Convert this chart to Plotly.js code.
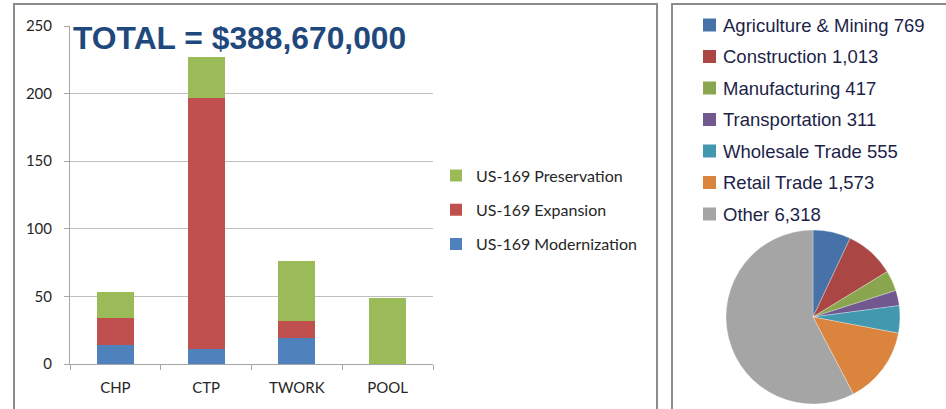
<!DOCTYPE html>
<html>
<head>
<meta charset="utf-8">
<script src="https://cdn.plot.ly/plotly-3.0.1.min.js"></script>
<style>html,body{margin:0;padding:0;background:#fff;}#chart{width:946px;height:409px;}</style>
</head>
<body>
<div id="chart"></div>
<script>
// Bar chart data (millions of dollars)
const programs = ["CHP", "CTP", "TWORK", "POOL"];
const modernization = [14, 11, 19.5, 0];
const expansion = [20, 186, 12, 0];
const preservation = [19, 30, 44.5, 49];
const seriesNames = ["US-169 Modernization", "US-169 Expansion", "US-169 Preservation"];
const yTicks = [0, 50, 100, 150, 200, 250];
const totalLabel = "TOTAL = $388,670,000";

// Pie chart data (employment by sector)
const sectors = ["Agriculture & Mining", "Construction", "Manufacturing", "Transportation", "Wholesale Trade", "Retail Trade", "Other"];
const sectorValues = [769, 1013, 417, 311, 555, 1573, 6318];

const W = 946, H = 409;
const px = v => v / W, py = v => 1 - v / H;

const barColors = ["#4F81BD", "#C0504D", "#9BBB59"];
const pieColors = ["#4672A8", "#AA4643", "#89A54E", "#71588F", "#4198AF", "#DB843D", "#A5A5A5"];
const barFont = {family: "Lato, 'Open Sans', sans-serif", size: 15, color: "#262626"};
const pieFont = {family: "'Liberation Sans', Arial, sans-serif", size: 18.5, color: "#1C1F48"};

const barSeries = [modernization, expansion, preservation];
const traces = barSeries.map((vals, i) => ({
  type: "bar", x: programs, y: vals, name: seriesNames[i],
  marker: {color: barColors[i]}, width: 0.41,
  legendgroup: "g" + i, legendrank: 3 - i, hoverinfo: "x+y+name"
}));

const pieLabels = sectors.map((s, i) => s + " " + sectorValues[i].toLocaleString("en-US"));
traces.push({
  type: "pie", labels: pieLabels,
  values: sectorValues, sort: false, direction: "clockwise", rotation: 0,
  textinfo: "none", marker: {colors: pieColors, line: {color: "rgba(255,255,255,0.6)", width: 0.5}},
  domain: {x: [px(726), px(900)], y: [py(404), py(230)]},
  showlegend: false
});

// Pie legend drawn from the same label / colour arrays
const legendTop = 25, legendStep = 31.5;
const pieLegendShapes = pieLabels.map((_, i) => ({
  type: "rect", xref: "paper", yref: "paper",
  x0: px(703), x1: px(716), y0: py(legendTop + i * legendStep - 6.5), y1: py(legendTop + i * legendStep + 6.5),
  fillcolor: pieColors[i], line: {width: 0}
}));
const pieLegendAnn = pieLabels.map((lab, i) => ({
  xref: "paper", yref: "paper", x: px(721), y: py(legendTop + i * legendStep),
  xanchor: "left", yanchor: "middle", text: lab, showarrow: false, font: pieFont
}));

const layout = {
  width: W, height: H, margin: {l: 0, r: 0, t: 0, b: 0},
  paper_bgcolor: "#fff", plot_bgcolor: "#fff",
  barmode: "stack", bargap: 0.59,
  title: {text: "<b>" + totalLabel + "</b>", x: px(73), xanchor: "left", xref: "paper",
          y: py(38), yanchor: "middle", yref: "paper",
          font: {family: "'Liberation Sans', Arial, sans-serif", size: 31.8, color: "#1F497D"}},
  xaxis: {domain: [px(70), px(433)], type: "category", tickson: "boundaries",
          ticks: "outside", ticklen: 5, tickcolor: "#A6A6A6", showline: true, linecolor: "#A6A6A6",
          linewidth: 1, showgrid: false, tickfont: barFont, ticklabelstandoff: 10, fixedrange: true},
  yaxis: {domain: [py(364), py(26)], range: [0, 250], tickvals: yTicks, ticks: "outside", ticklen: 5,
          tickcolor: "#A6A6A6", showline: true, linecolor: "#A6A6A6", linewidth: 1,
          gridcolor: "#BFBFBF", gridwidth: 1, zeroline: false, tickfont: barFont, ticklabelstandoff: 9,
          fixedrange: true},
  legend: {x: px(436), xanchor: "left", y: py(158.5), yanchor: "top",
           tracegroupgap: 10.5, font: Object.assign({}, barFont, {size: 16}), bgcolor: "rgba(0,0,0,0)"},
  annotations: pieLegendAnn,
  shapes: [
    {type: "rect", xref: "paper", yref: "paper", x0: px(14), x1: px(657), y0: py(4), y1: py(420),
     line: {color: "#8C8C8C", width: 2}},
    {type: "rect", xref: "paper", yref: "paper", x0: px(672), x1: px(960), y0: py(4), y1: py(420),
     line: {color: "#8C8C8C", width: 2}}
  ].concat(pieLegendShapes),
  showlegend: true
};

Plotly.newPlot("chart", traces, layout, {displayModeBar: false, staticPlot: true});
</script>
</body>
</html>
